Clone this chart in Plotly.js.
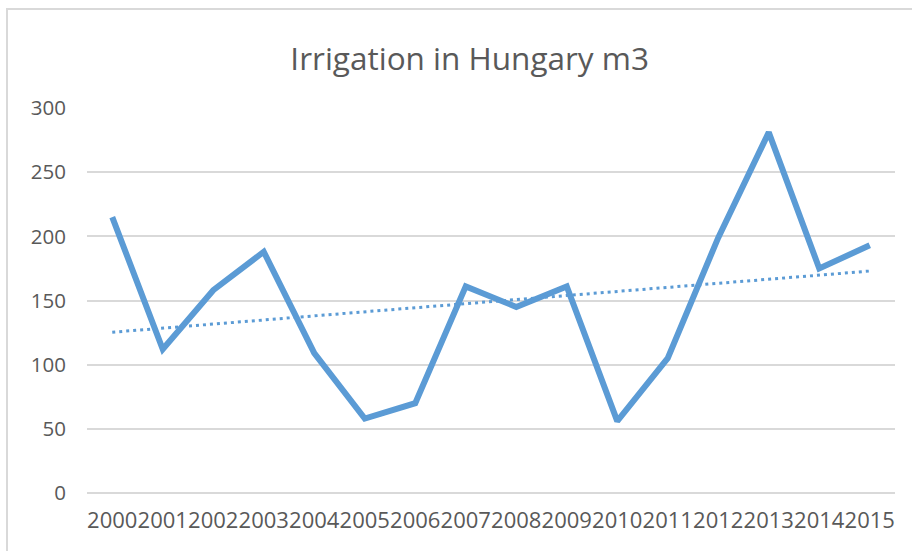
<!DOCTYPE html>
<html>
<head>
<meta charset="utf-8">
<script src="https://cdn.plot.ly/plotly-3.0.1.min.js"></script>
<style>
  html, body { margin: 0; padding: 0; background: #ffffff; overflow: hidden; }
  #frame { position: absolute; left: 6px; top: 8px; width: 1200px; height: 1000px;
           border-left: 2px solid #d9d9d9; border-top: 2px solid #d9d9d9; }
  #chart { position: absolute; left: 0; top: 0; width: 912px; height: 551px; }
</style>
</head>
<body>
<div id="frame"></div>
<div id="chart"></div>
<script>
const years = ["2000","2001","2002","2003","2004","2005","2006","2007",
               "2008","2009","2010","2011","2012","2013","2014","2015"];
const irrigation = [215, 112, 158, 188, 109, 58, 70, 161,
                    145, 161, 56, 105, 199, 281, 175, 193];
const yTicks = [0, 50, 100, 150, 200, 250, 300];

// Linear trendline (least squares over category index), as the spreadsheet draws it
const n = irrigation.length;
const idx = irrigation.map((_, i) => i);
const mx = idx.reduce((a, b) => a + b, 0) / n;
const my = irrigation.reduce((a, b) => a + b, 0) / n;
let sxy = 0, sxx = 0;
for (let i = 0; i < n; i++) { sxy += (i - mx) * (irrigation[i] - my); sxx += (i - mx) * (i - mx); }
const slope = sxy / sxx, intercept = my - slope * mx;
const trend = idx.map(i => intercept + slope * i);

const txt = '#595959';
const font = '"Open Sans", "Noto Sans", sans-serif';

Plotly.newPlot('chart', [
  { type: 'scatter', mode: 'lines', x: years, y: irrigation,
    line: { color: '#5b9bd5', width: 6, shape: 'linear' },
    hoverinfo: 'x+y', showlegend: false },
  { type: 'scatter', mode: 'lines', x: years, y: trend,
    line: { color: '#5b9bd5', width: 3, dash: '3px,4px' },
    hoverinfo: 'skip', showlegend: false }
], {
  width: 912, height: 551,
  margin: { l: 87, r: 17, t: 108, b: 58, pad: 0 },
  paper_bgcolor: 'rgba(0,0,0,0)', plot_bgcolor: 'rgba(0,0,0,0)',
  title: { text: 'Irrigation in Hungary m3', font: { family: font, size: 31.5, color: txt },
           x: 0.515, xref: 'container', xanchor: 'center', y: 0.893, yref: 'container', yanchor: 'middle' },
  xaxis: { type: 'category', categoryorder: 'array', categoryarray: years,
           range: [-0.5, 15.5], showgrid: false, zeroline: false, showline: false,
           ticks: '', tickangle: 0, ticklabelstandoff: 12,
           tickfont: { family: font, size: 22, color: txt }, fixedrange: true },
  yaxis: { range: [0, 300], tickvals: yTicks, ticktext: yTicks.map(String),
           showgrid: true, gridcolor: '#d9d9d9', gridwidth: 2,
           zeroline: true, zerolinecolor: '#d9d9d9', zerolinewidth: 2,
           showline: false, ticks: '', ticklabelstandoff: 20,
           tickfont: { family: font, size: 20.5, color: txt }, fixedrange: true }
}, { displayModeBar: false, staticPlot: true });
</script>
</body>
</html>
